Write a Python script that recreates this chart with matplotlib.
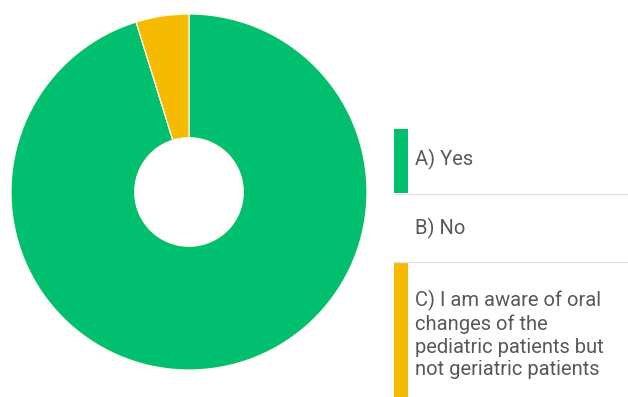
import matplotlib
matplotlib.use("Agg")
import matplotlib.pyplot as plt
from matplotlib.patches import Rectangle

# Survey responses (percent of respondents)
categories = ["A) Yes", "B) No",
              "C) I am aware of oral\nchanges of the\npediatric patients but\nnot geriatric patients"]
values = [95.2, 0.0, 4.8]
colors = ["#00BF6F", "#7D8DA8", "#F6BB00"]

W, H = 628, 397
fig = plt.figure(figsize=(W / 100, H / 100), dpi=100)
fig.patch.set_facecolor("white")

# Donut chart
cx, cy, r = 189, 192, 178
ax = fig.add_axes([(cx - r) / W, (H - cy - r) / H, 2 * r / W, 2 * r / H])
ax.pie(values, colors=colors, startangle=90, counterclock=False,
       radius=1.0,
       wedgeprops=dict(width=1.0 - 0.305, edgecolor="#fffbe6", linewidth=0.9))
ax.set_xlim(-1.0, 1.0)
ax.set_ylim(-1.0, 1.0)
ax.set_aspect("equal")
ax.axis("off")

# Legend panel drawn in pixel coordinates
lg = fig.add_axes([0, 0, 1, 1], facecolor="none")
lg.set_xlim(0, W)
lg.set_ylim(H, 0)
lg.axis("off")

row_tops = [129, 194, 262]
row_bottoms = [193, 262, 400]
text_y = [159, 228, 290]
bar_x, bar_w = 394, 14

for i, (lab, val, col) in enumerate(zip(categories, values, colors)):
    if val > 0:
        lg.add_patch(Rectangle((bar_x, row_tops[i]), bar_w,
                               row_bottoms[i] - row_tops[i],
                               facecolor=col, edgecolor="none"))
    if i > 0:
        lg.plot([bar_x, W], [row_tops[i], row_tops[i]],
                color="#e3e3e3", linewidth=1.0)
    lg.text(415, text_y[i], lab, fontsize=14.5, family="Roboto",
            color="#585858", va="center" if i < 2 else "top",
            ha="left", linespacing=1.23)

fig.savefig("out.png", dpi=100, facecolor="white")
